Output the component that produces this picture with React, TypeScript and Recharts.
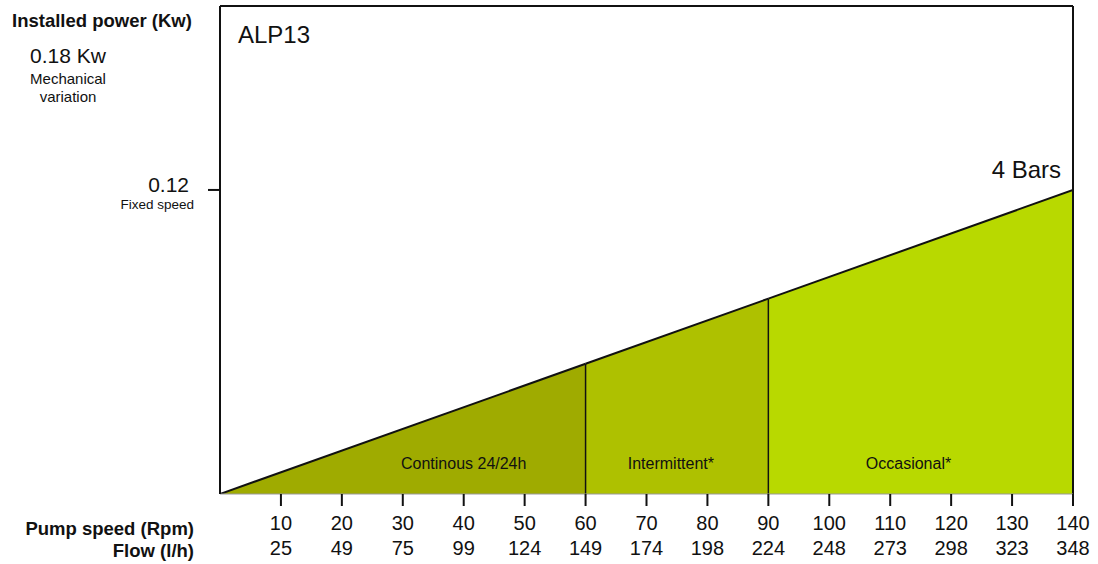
import React from "react";
import {
  ComposedChart,
  Area,
  XAxis,
  YAxis,
  ReferenceLine,
  ReferenceArea,
} from "recharts";

// Pump speed (Rpm) break points of the power line
const rpmPoints = [0, 60, 90, 140];
// Installed power (Kw) at those break points
const powerPoints = [0, 0.0514, 0.0771, 0.12];
// Series per duty zone (null outside their zone)
const continuousVals = [0, 0.0514, null, null];
const intermittentVals = [null, 0.0514, 0.0771, null];
const occasionalVals = [null, null, 0.0771, 0.12];

// X axis ticks: rpm and matching flow
const rpmTicks = [10, 20, 30, 40, 50, 60, 70, 80, 90, 100, 110, 120, 130, 140];
const flowTicks = [25, 49, 75, 99, 124, 149, 174, 198, 224, 248, 273, 298, 323, 348];

// Y axis
const yTicks = [0.12];
const yTickLabels = ["0.12"];
const yTickSubLabels = ["Fixed speed"];
const Y_MAX = 0.1926;

// Zone labels: [text, label center rpm]
const zoneLabels = ["Continous 24/24h", "Intermittent*", "Occasional*"];
const zoneLabelCenters = [40, 74, 113];

const COLORS = {
  continuous: "#9fab00",
  intermittent: "#aec100",
  occasional: "#b8d900",
};

const FONT = "'Liberation Sans', Arial, Helvetica, sans-serif";

const data = rpmPoints.map((r, i) => ({
  rpm: r,
  continuous: continuousVals[i],
  intermittent: intermittentVals[i],
  occasional: occasionalVals[i],
}));

const XTick = (props: any) => {
  const { x, y, payload } = props;
  const idx = rpmTicks.indexOf(payload.value);
  return (
    <g>
      <text x={x} y={y + 24} textAnchor="middle" fontSize={20} fill="#111" fontFamily={FONT}>
        {payload.value}
      </text>
      <text x={x} y={y + 49} textAnchor="middle" fontSize={20} fill="#111" fontFamily={FONT}>
        {flowTicks[idx]}
      </text>
    </g>
  );
};

const YTick = (props: any) => {
  const { x, y, payload } = props;
  const idx = yTicks.indexOf(payload.value);
  return (
    <g>
      <text x={x - 19} y={y + 2} textAnchor="end" fontSize={21} fill="#111" fontFamily={FONT}>
        {yTickLabels[idx]}
      </text>
      <text x={x - 14} y={y + 19} textAnchor="end" fontSize={13.5} fill="#111" fontFamily={FONT}>
        {yTickSubLabels[idx]}
      </text>
    </g>
  );
};

export default function App() {
  return (
    <div style={{ position: "absolute", left: 0, top: 0, width: 1098, height: 564, background: "#fff" }}>
      <ComposedChart
        width={1098}
        height={564}
        data={data}
        margin={{ top: 6, right: 25, left: 0, bottom: 0 }}
      >
        <XAxis
          dataKey="rpm"
          type="number"
          domain={[0, 140]}
          ticks={rpmTicks}
          height={70}
          tickSize={12}
          tickMargin={0}
          tickLine={{ stroke: "#111", strokeWidth: 2 }}
          axisLine={{ stroke: "#999", strokeWidth: 1 }}
          tick={<XTick />}
          interval={0}
          allowDataOverflow
        />
        <YAxis
          type="number"
          domain={[0, Y_MAX]}
          ticks={yTicks}
          width={220}
          tickSize={12}
          tickMargin={0}
          tickLine={{ stroke: "#111", strokeWidth: 2 }}
          axisLine={{ stroke: "#111", strokeWidth: 2 }}
          tick={<YTick />}
          interval={0}
          allowDataOverflow
        />
        <Area
          type="linear"
          dataKey="continuous"
          fill={COLORS.continuous}
          fillOpacity={1}
          stroke="#111"
          strokeWidth={2}
          isAnimationActive={false}
          dot={false}
          activeDot={false}
        />
        <Area
          type="linear"
          dataKey="intermittent"
          fill={COLORS.intermittent}
          fillOpacity={1}
          stroke="#111"
          strokeWidth={2}
          isAnimationActive={false}
          dot={false}
          activeDot={false}
        />
        <Area
          type="linear"
          dataKey="occasional"
          fill={COLORS.occasional}
          fillOpacity={1}
          stroke="#111"
          strokeWidth={2}
          isAnimationActive={false}
          dot={false}
          activeDot={false}
        />
        <ReferenceLine
          segment={[
            { x: rpmPoints[1], y: 0 },
            { x: rpmPoints[1], y: powerPoints[1] },
          ]}
          stroke="#111"
          strokeWidth={1.5}
        />
        <ReferenceLine
          segment={[
            { x: rpmPoints[2], y: 0 },
            { x: rpmPoints[2], y: powerPoints[2] },
          ]}
          stroke="#111"
          strokeWidth={1.5}
        />
        <ReferenceLine y={Y_MAX} stroke="#111" strokeWidth={2} />
        <ReferenceLine x={140} stroke="#111" strokeWidth={2} />
        {zoneLabels.map((t, i) => (
          <ReferenceArea
            key={t}
            x1={zoneLabelCenters[i] - 10}
            x2={zoneLabelCenters[i] + 10}
            y1={0}
            y2={0.02}
            fill="none"
            stroke="none"
            label={{
              value: t,
              position: "insideBottom",
              offset: 25,
              fontSize: 16,
              fill: "#111",
              fontFamily: FONT,
            }}
          />
        ))}
        <ReferenceArea
          x1={120}
          x2={140}
          y1={powerPoints[3]}
          y2={0.15}
          fill="none"
          stroke="none"
          label={{
            value: "4 Bars",
            position: "insideBottomRight",
            offset: 12,
            fontSize: 24,
            fill: "#111",
            fontFamily: FONT,
          }}
        />
      </ComposedChart>
      <svg
        width={1098}
        height={564}
        style={{ position: "absolute", left: 0, top: 0, pointerEvents: "none" }}
        fontFamily={FONT}
      >
        <text x={12} y={27} fontSize={18.5} fontWeight="bold" fill="#111">
          Installed power (Kw)
        </text>
        <text x={68} y={63} fontSize={21} textAnchor="middle" fill="#111">
          0.18 Kw
        </text>
        <text x={68} y={84} fontSize={15} textAnchor="middle" fill="#111">
          Mechanical
        </text>
        <text x={68} y={102} fontSize={15} textAnchor="middle" fill="#111">
          variation
        </text>
        <text x={238} y={43} fontSize={24} fill="#111">
          ALP13
        </text>
        <text x={194} y={535} fontSize={18.5} fontWeight="bold" textAnchor="end" fill="#111">
          Pump speed (Rpm)
        </text>
        <text x={194} y={557} fontSize={18.5} fontWeight="bold" textAnchor="end" fill="#111">
          Flow (l/h)
        </text>
      </svg>
    </div>
  );
}
